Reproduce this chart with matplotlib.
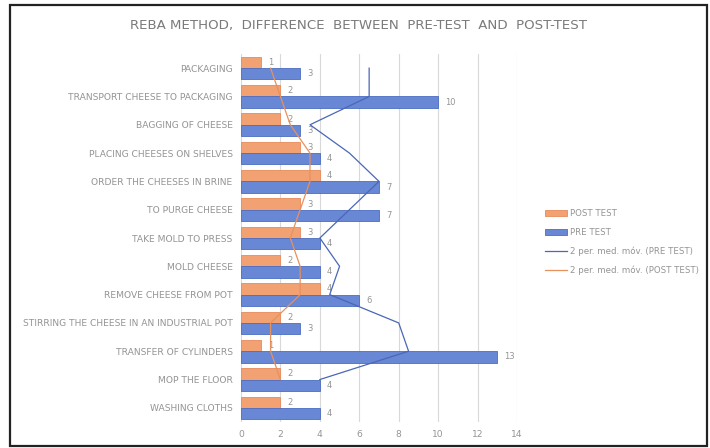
import matplotlib
matplotlib.use("Agg")
from matplotlib import pyplot as plt
from matplotlib.patches import Rectangle
import numpy as np

# categories listed bottom -> top (Excel bar order)
categories = ["WASHING CLOTHS", "MOP THE FLOOR", "TRANSFER OF CYLINDERS",
              "STIRRING THE CHEESE IN AN INDUSTRIAL POT", "REMOVE CHEESE FROM POT",
              "MOLD CHEESE", "TAKE MOLD TO PRESS", "TO PURGE CHEESE",
              "ORDER THE CHEESES IN BRINE", "PLACING CHEESES ON SHELVES",
              "BAGGING OF CHEESE", "TRANSPORT CHEESE TO PACKAGING", "PACKAGING"]
pre_test = [4, 4, 13, 3, 6, 4, 4, 7, 7, 4, 3, 10, 3]
post_test = [2, 2, 1, 2, 4, 2, 3, 3, 4, 3, 2, 2, 1]
x_ticks = [0, 2, 4, 6, 8, 10, 12, 14]

grey = "#949494"
orange = "#f2a173"
blue = "#6887d4"

fig = plt.figure(figsize=(7.1, 4.48), dpi=100)
fig.patches.append(Rectangle((10 / 710, 2 / 448), 697 / 710, 441 / 448,
                             transform=fig.transFigure, fill=False,
                             edgecolor="#222222", linewidth=1.6))
ax = fig.add_axes([241 / 710, 26 / 448, 276 / 710, 368 / 448])

y = np.arange(len(categories))
h = 0.4
b_post = ax.barh(y + h / 2, post_test, height=h, color=orange, edgecolor="#e8895a",
                 linewidth=0.6, label="POST TEST", zorder=2)
b_pre = ax.barh(y - h / 2, pre_test, height=h, color=blue, edgecolor="#4a6cc2",
                linewidth=0.6, label="PRE TEST", zorder=2)

for yi, v in zip(y, post_test):
    ax.text(v + 0.35, yi + h / 2, str(v), va="center", ha="left", fontsize=6, color=grey)
for yi, v in zip(y, pre_test):
    ax.text(v + 0.35, yi - h / 2, str(v), va="center", ha="left", fontsize=6, color=grey)

# 2 period moving averages
pre_ma = [(pre_test[i - 1] + pre_test[i]) / 2 for i in range(1, len(pre_test))]
post_ma = [(post_test[i - 1] + post_test[i]) / 2 for i in range(1, len(post_test))]
l_pre, = ax.plot(pre_ma, y[1:], color="#4a67b8", linewidth=0.9,
                 label="2 per. med. móv. (PRE TEST)", zorder=3)
l_post, = ax.plot(post_ma, y[1:], color="#e8915c", linewidth=0.9,
                  label="2 per. med. móv. (POST TEST)", zorder=3)

ax.set_xlim(0, 14)
ax.set_ylim(-0.5, len(categories) - 0.5)
ax.set_xticks(x_ticks)
ax.set_yticks(y)
ax.set_yticklabels(categories)
ax.tick_params(length=0, labelsize=6.6, labelcolor=grey)
ax.tick_params(axis="y", pad=6)
ax.tick_params(axis="x", pad=6)
ax.grid(axis="x", color="#d9d9d9", linewidth=0.8, zorder=0)
ax.set_axisbelow(True)
for s in ax.spines.values():
    s.set_visible(False)

fig.text(358 / 710, 1 - 26 / 448, "REBA METHOD,  DIFFERENCE  BETWEEN  PRE-TEST  AND  POST-TEST",
         ha="center", va="center", fontsize=9.6, color="#7a7a7a")

ax.legend(handles=[b_post, b_pre, l_pre, l_post],
          loc="center left", bbox_to_anchor=(537 / 710, 1 - 242 / 448),
          bbox_transform=fig.transFigure, frameon=False, fontsize=6.2,
          labelcolor=grey, handlelength=2.6, handleheight=0.7, handletextpad=0.3,
          labelspacing=1.15)

fig.savefig("out.png", dpi=100)
